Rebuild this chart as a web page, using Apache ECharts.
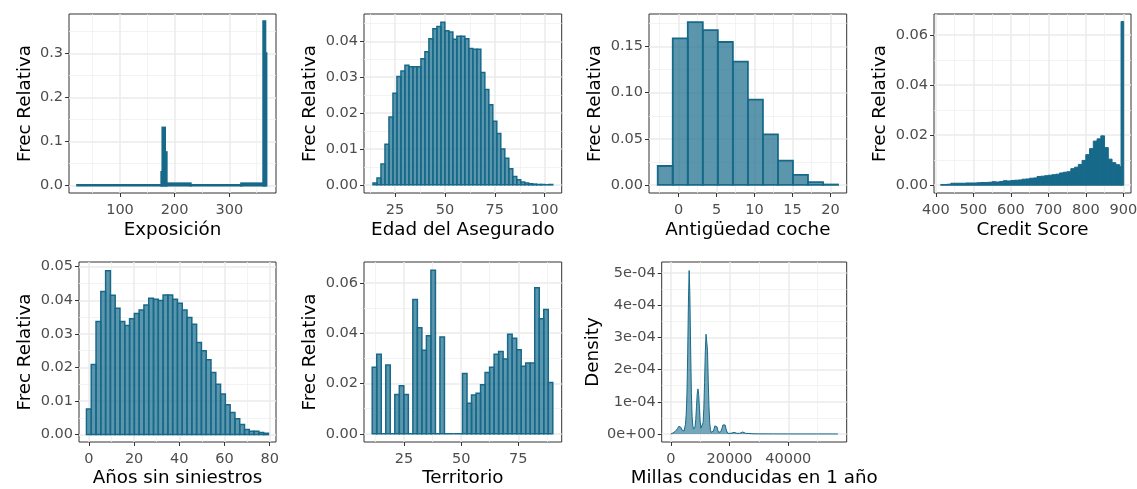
<!DOCTYPE html>
<html>
<head>
<meta charset="utf-8">
<script src="https://cdn.jsdelivr.net/npm/echarts@6/dist/echarts.min.js"></script>
<style>
  html, body { margin: 0; padding: 0; background: #ffffff; }
  #chart { width: 1137px; height: 489px; }
</style>
</head>
<body>
<div id="chart"></div>
<script>
// ---- Exposición (días): bordes de intervalo y frecuencia relativa ----
const expoBordes = [22, 176, 178, 182, 185, 229, 322, 362.5, 365.5, 367.5];
const expoFrec   = [0.0005, 0.03, 0.131, 0.075, 0.004, 0.0005, 0.004, 0.373, 0.30];
const expoTicksX = [100, 200, 300];
const expoTicksY = [0, 0.1, 0.2, 0.3];

// ---- Edad del asegurado: intervalos de 2 años desde 14 ----
const edadInicio = 14;
const edadAncho  = 2;
const edadFrec = [0.0005, 0.0019, 0.0058, 0.0113, 0.0189, 0.0255, 0.0302, 0.0317, 0.0333, 0.0329,
                  0.0329, 0.0329, 0.0351, 0.0371, 0.0407, 0.0435, 0.0441, 0.0453, 0.0429, 0.0426,
                  0.0406, 0.0414, 0.0414, 0.0407, 0.0380, 0.0378, 0.0378, 0.0313, 0.0266, 0.0223,
                  0.0177, 0.0143, 0.0100, 0.0074, 0.0045, 0.0023, 0.0014, 0.0008, 0.0005, 0.0003,
                  0.0002, 0.0001, 0.0001, 0.0000, 0.0001];
const edadTicksX = [25, 50, 75, 100];
const edadTicksY = [0, 0.01, 0.02, 0.03, 0.04];

// ---- Antigüedad del coche ----
const cocheInicio = -2.75;
const cocheAncho  = 1.98;
const cocheFrec = [0.0205, 0.159, 0.1766, 0.168, 0.155, 0.1338, 0.0925, 0.0547, 0.0263, 0.0108, 0.0029, 0.0004];
const cocheTicksX = [0, 5, 10, 15, 20];
const cocheTicksY = [0, 0.05, 0.10, 0.15];

// ---- Credit score ----
const creditBordes = [413, 420, 430, 440, 450, 460, 470, 480, 490, 500, 510, 520, 530, 540, 550, 560,
                      570, 580, 590, 600, 610, 620, 630, 640, 650, 660, 670, 680, 690, 700, 710, 720,
                      730, 740, 750, 760, 770, 780, 790, 800, 810, 820, 830, 840, 850, 860, 870, 880,
                      890, 894, 901];
const creditFrec = [0.0003, 0.0003, 0.0004, 0.0008, 0.0008, 0.0008, 0.0008, 0.0009, 0.0009, 0.0009,
                    0.0010, 0.0011, 0.0011, 0.0012, 0.0014, 0.0013, 0.0015, 0.0018, 0.0017, 0.0019,
                    0.0020, 0.0021, 0.0024, 0.0025, 0.0028, 0.0029, 0.0035, 0.0036, 0.0038, 0.0040,
                    0.0042, 0.0044, 0.0049, 0.0052, 0.0054, 0.0066, 0.0072, 0.0083, 0.0099, 0.0122,
                    0.0146, 0.0176, 0.0185, 0.0197, 0.0150, 0.0104, 0.0090, 0.0082, 0.0074, 0.0653];
const creditTicksX = [400, 500, 600, 700, 800, 900];
const creditTicksY = [0, 0.02, 0.04, 0.06];

// ---- Años sin siniestros ----
const aniosInicio = -1.1;
const aniosAncho  = 2.12;
const aniosFrec = [0.0076, 0.0209, 0.0337, 0.0426, 0.0488, 0.0415, 0.0376, 0.0337, 0.0325, 0.0345,
                   0.0361, 0.0371, 0.0386, 0.0406, 0.0403, 0.0399, 0.0416, 0.0416, 0.0403, 0.0391,
                   0.0371, 0.0349, 0.0329, 0.0274, 0.0250, 0.0223, 0.0185, 0.0150, 0.0121, 0.0089,
                   0.0066, 0.0047, 0.0030, 0.0015, 0.0010, 0.0010, 0.0006, 0.0004];
const aniosTicksX = [0, 20, 40, 60, 80];
const aniosTicksY = [0, 0.01, 0.02, 0.03, 0.04, 0.05];

// ---- Territorio ----
const terrInicio = 11.1;
const terrAncho  = 1.975;
const terrFrec = [0.0264, 0.0316, 0, 0.0273, 0, 0.0156, 0.0191, 0.0156, 0, 0.0534,
                  0.0421, 0.0332, 0.0390, 0.0650, 0, 0.0385, 0, 0, 0, 0,
                  0.0240, 0.0121, 0.0154, 0.0161, 0.0195, 0.0244, 0.0264, 0.0316, 0.0327, 0.0297,
                  0.0396, 0.0380, 0.0334, 0.0268, 0.0281, 0.0281, 0.0580, 0.0457, 0.0494, 0.0204];
const terrTicksX = [25, 50, 75];
const terrTicksY = [0, 0.02, 0.04, 0.06];

// ---- Millas conducidas en 1 año: densidad estimada ----
const millas = [0, 250, 500, 750, 1000, 1250, 1500, 1750, 2000, 2250, 2500, 2750, 3000, 3250, 3500,
                3750, 4000, 4250, 4500, 4750, 5000, 5250, 5500, 5750, 6000, 6250, 6500, 6750, 7000,
                7250, 7500, 7750, 8000, 8250, 8500, 8750, 9000, 9250, 9500, 9750, 10000, 10250,
                10500, 10750, 11000, 11250, 11500, 11750, 12000, 12250, 12500, 12750, 13000, 13250,
                13500, 13750, 14000, 14250, 14500, 14750, 15000, 15250, 15500, 15750, 16000, 16250,
                16500, 16750, 17000, 17500, 17750, 18000, 18250, 18500, 18750, 19000, 19500, 20000,
                20500, 21000, 21500, 22000, 22500, 23000, 23500, 24000, 24500, 25000, 25500, 26000,
                28000, 30000, 35000, 40000, 45000, 50000, 56900];
const densidad = [0, 0.01e-4, 0.02e-4, 0.03e-4, 0.05e-4, 0.06e-4, 0.08e-4, 0.10e-4, 0.13e-4, 0.16e-4,
                  0.20e-4, 0.24e-4, 0.26e-4, 0.25e-4, 0.20e-4, 0.13e-4, 0.08e-4, 0.07e-4, 0.09e-4,
                  0.15e-4, 0.30e-4, 0.62e-4, 1.25e-4, 2.50e-4, 4.10e-4, 5.08e-4, 4.30e-4, 2.70e-4,
                  1.30e-4, 0.55e-4, 0.25e-4, 0.15e-4, 0.14e-4, 0.22e-4, 0.45e-4, 0.85e-4, 1.25e-4,
                  1.40e-4, 1.22e-4, 0.80e-4, 0.40e-4, 0.18e-4, 0.12e-4, 0.17e-4, 0.35e-4, 0.80e-4,
                  1.60e-4, 2.55e-4, 3.10e-4, 3.16e-4, 2.60e-4, 1.65e-4, 0.85e-4, 0.35e-4, 0.13e-4,
                  0.05e-4, 0.04e-4, 0.05e-4, 0.09e-4, 0.16e-4, 0.25e-4, 0.31e-4, 0.30e-4, 0.22e-4,
                  0.12e-4, 0.05e-4, 0.03e-4, 0.04e-4, 0.07e-4, 0.19e-4, 0.28e-4, 0.33e-4, 0.34e-4,
                  0.28e-4, 0.18e-4, 0.09e-4, 0.02e-4, 0.01e-4, 0.02e-4, 0.04e-4, 0.05e-4, 0.04e-4,
                  0.02e-4, 0.01e-4, 0.02e-4, 0.04e-4, 0.06e-4, 0.05e-4, 0.02e-4, 0.01e-4, 0.005e-4,
                  0.003e-4, 0.002e-4, 0.001e-4, 0.001e-4, 0.001e-4, 0];
const millasTicksX = [0, 20000, 40000];
const densidadTicksY = [0, 1e-4, 2e-4, 3e-4, 4e-4, 5e-4];

// ---- helpers ----
const FONT = 'DejaVu Sans';
const TEAL = '#17698a';
const TEAL_FILL = 'rgba(23,105,138,0.7)';

function binsFromEdges(edges, freq) {
  return freq.map((f, i) => [edges[i], edges[i + 1], f]);
}
function binsRegular(start, width, freq) {
  return freq.map((f, i) => [start + i * width, start + (i + 1) * width, f]);
}

const fixed = d => v => v.toFixed(d);
const sci = v => {
  if (v === 0) return '0e+00';
  const e = Math.floor(Math.log10(v) + 1e-9);
  const m = Math.round(v / Math.pow(10, e));
  const ae = Math.abs(e);
  return m + 'e' + (e < 0 ? '-' : '+') + (ae < 10 ? '0' : '') + ae;
};

// Panel layout and axis ranges
const panels = [
  { grid: [69, 14, 207, 179],    x: [6.7, 385.4, 100, expoTicksX, fixed(0)],       y: [-0.0175, 0.390, 0.1, expoTicksY, fixed(1)],
    xName: 'Exposición', yName: 'Frec Relativa', yGap: 34.6, xGap: 28.5,
    data: binsFromEdges(expoBordes, expoFrec), fill: TEAL, lw: 2.4 },
  { grid: [364, 14, 197.7, 179], x: [9.5, 108.5, 25, edadTicksX, fixed(0)],        y: [-0.00227, 0.0476, 0.01, edadTicksY, fixed(2)],
    xName: 'Edad del Asegurado', yName: 'Frec Relativa', yGap: 44.5, xGap: 28.5,
    data: binsRegular(edadInicio, edadAncho, edadFrec), fill: TEAL_FILL, lw: 1.5 },
  { grid: [649, 14, 197.7, 179], x: [-3.9, 22.15, 5, cocheTicksX, fixed(0)],        y: [-0.0088, 0.1854, 0.05, cocheTicksY, fixed(2)],
    xName: 'Antigüedad coche', yName: 'Frec Relativa', yGap: 44.5, xGap: 28.5,
    data: binsRegular(cocheInicio, cocheAncho, cocheFrec), fill: TEAL_FILL, lw: 1.8 },
  { grid: [934, 14, 197, 179],   x: [395.2, 920.5, 100, creditTicksX, fixed(0)],    y: [-0.0031, 0.0683, 0.02, creditTicksY, fixed(2)],
    xName: 'Credit Score', yName: 'Frec Relativa', yGap: 44.5, xGap: 28.5,
    data: binsFromEdges(creditBordes, creditFrec), fill: TEAL, lw: 1 },
  { grid: [79, 262, 197, 180],   x: [-4.4, 82.8, 20, aniosTicksX, fixed(0)],        y: [-0.0022, 0.0514, 0.01, aniosTicksY, fixed(2)],
    xName: 'Años sin siniestros', yName: 'Frec Relativa', yGap: 44.5, xGap: 27,
    data: binsRegular(aniosInicio, aniosAncho, aniosFrec), fill: TEAL_FILL, lw: 1.5 },
  { grid: [364, 262, 197.7, 180], x: [7.5, 94, 25, terrTicksX, fixed(0)],           y: [-0.00325, 0.06825, 0.02, terrTicksY, fixed(2)],
    xName: 'Territorio', yName: 'Frec Relativa', yGap: 44.5, xGap: 27,
    data: binsRegular(terrInicio, terrAncho, terrFrec), fill: TEAL_FILL, lw: 1.5 },
  { grid: [661.7, 262, 185, 180], x: [-3100, 59900, 20000, millasTicksX, fixed(0)], y: [-0.25e-4, 5.345e-4, 1e-4, densidadTicksY, sci],
    xName: 'Millas conducidas en 1 año', yName: 'Density', yGap: 59, xGap: 27,
    line: millas.map((m, i) => [m, densidad[i]]) }
];

function renderBins(fill, lw) {
  return function (params, api) {
    const top = api.coord([api.value(0), api.value(2)]);
    const base = api.coord([api.value(1), 0]);
    return {
      type: 'rect',
      shape: { x: top[0], y: top[1], width: base[0] - top[0], height: base[1] - top[1] },
      style: { fill: fill, stroke: TEAL, lineWidth: lw }
    };
  };
}

function axis(gridIndex, cfg, isX, name, gap) {
  const [min, max, step, ticks, fmt] = cfg;
  return {
    type: 'value',
    gridIndex: gridIndex,
    min: min, max: max,
    minInterval: step, maxInterval: step,
    name: name,
    nameLocation: 'middle',
    nameGap: gap,
    nameTextStyle: { fontFamily: FONT, fontSize: 18.3, color: '#000000' },
    axisLine: { show: false, onZero: false },
    axisTick: { show: true, length: 4, inside: false, customValues: ticks,
                lineStyle: { color: '#333333', width: 1 } },
    axisLabel: { show: true, customValues: ticks, formatter: fmt, hideOverlap: false,
                 fontFamily: FONT, fontSize: 14.5, color: '#4d4d4d', margin: isX ? 10 : 6 },
    splitLine: { show: true, lineStyle: { color: '#ebebeb', width: 1.5 } },
    minorTick: { show: false, splitNumber: 2 },
    minorSplitLine: { show: true, lineStyle: { color: '#f0f0f0', width: 0.8 } }
  };
}

const option = {
  animation: false,
  backgroundColor: '#ffffff',
  grid: panels.map(p => ({
    left: p.grid[0], top: p.grid[1], width: p.grid[2], height: p.grid[3],
    show: true, backgroundColor: '#ffffff', borderColor: '#333333', borderWidth: 1,
    containLabel: false, outerBoundsMode: 'none'
  })),
  xAxis: panels.map((p, i) => axis(i, p.x, true, p.xName, p.xGap)),
  yAxis: panels.map((p, i) => axis(i, p.y, false, p.yName, p.yGap)),
  series: panels.map((p, i) => p.line ? {
    type: 'line', xAxisIndex: i, yAxisIndex: i, data: p.line,
    showSymbol: false, symbol: 'none', silent: true,
    lineStyle: { color: TEAL, width: 1 },
    areaStyle: { color: 'rgba(23,105,138,0.85)' }
  } : {
    type: 'custom', xAxisIndex: i, yAxisIndex: i, data: p.data,
    encode: { x: [0, 1], y: 2 }, silent: true,
    renderItem: renderBins(p.fill, p.lw)
  })
};

const chart = echarts.init(document.getElementById('chart'), null, { renderer: 'canvas' });
chart.setOption(option);
</script>
</body>
</html>
